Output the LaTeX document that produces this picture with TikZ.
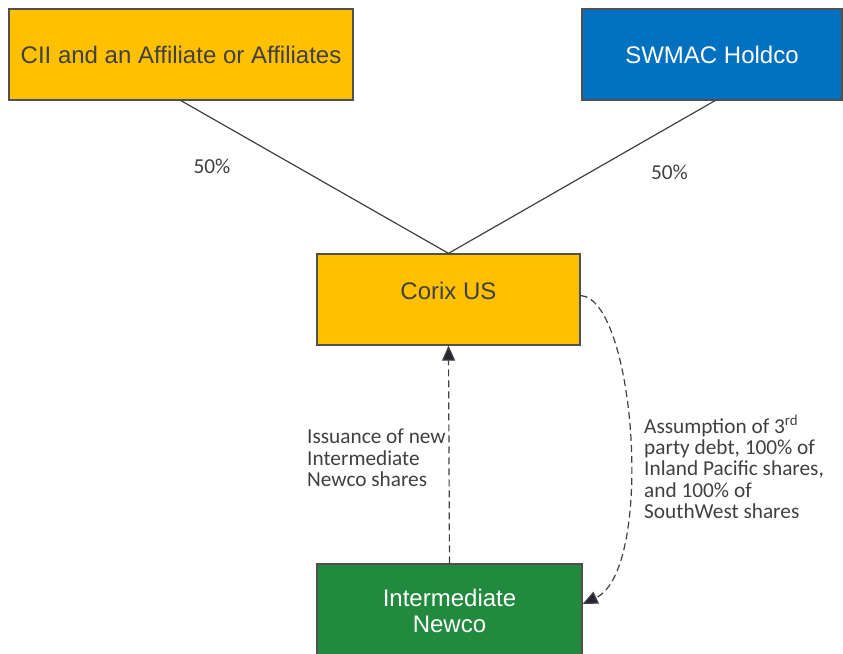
\documentclass[tikz,border=0pt]{standalone}
\usepackage{fontspec}
\setmainfont{Liberation Sans}
\newfontfamily\notefont{Carlito}
\usetikzlibrary{arrows.meta}
\definecolor{boxyellow}{HTML}{FFC000}
\definecolor{boxblue}{HTML}{0070C0}
\definecolor{boxgreen}{HTML}{228A3E}
\definecolor{boxline}{HTML}{505050}
\definecolor{txtgray}{HTML}{404040}
\definecolor{tipdark}{HTML}{262634}
\begin{document}
\begin{tikzpicture}[x=1pt,y=-1pt,
    entity/.style={draw=boxline, line width=1.3pt, minimum height=91pt, inner sep=0pt,
        font=\fontsize{24}{27}\selectfont, align=center},
    note/.style={text=txtgray, inner sep=0pt, align=left,
        font=\notefont\fontsize{21.3}{21.3}\selectfont},
    owns/.style={draw=txtgray, line width=1.2pt},
    flow/.style={draw=txtgray, line width=1.2pt, dash pattern=on 7pt off 4pt,
        -{Triangle[length=15pt,width=13pt,fill=tipdark]}}]
    \useasboundingbox (0,0) rectangle (843,653);
    % entities
    \node[entity, fill=boxyellow, text=txtgray, minimum width=344pt] (cii) at (181,54.5) {CII and an Affiliate or Affiliates};
    \node[entity, fill=boxblue, text=white, minimum width=260pt] (swmac) at (712,54.5) {SWMAC Holdco};
    \node[entity, fill=boxyellow, text=txtgray, minimum width=263pt, text depth=17pt] (corix) at (448.5,299.5) {Corix US};
    \node[entity, fill=boxgreen, text=white, minimum width=265pt, minimum height=94pt] (newco) at (449.5,611) {Intermediate\\[-1pt]Newco};
    % ownership
    \draw[owns] (cii.south) -- (corix.north);
    \draw[owns] ([xshift=3pt]swmac.south) -- (corix.north);
    \node[note] (pctl) at (212,166) {50\%};
    \node[note] (pctr) at (669.5,172.5) {50\%};
    % transfers
    \draw[flow] (newco.north) -- (corix.south);
    \draw[flow] ([yshift=4pt]corix.east) .. controls +(55,4) and +(72,-34) .. ([yshift=7pt]newco.east);
    \node[note, anchor=west] (issue) at (307,458) {Issuance of new\\Intermediate\\Newco shares};
    \node[note, anchor=west] (assume) at (644,467) {Assumption of 3\textsuperscript{rd}\\party debt, 100\% of\\Inland Pacific shares,\\and 100\% of\\SouthWest shares};
\end{tikzpicture}
\end{document}
